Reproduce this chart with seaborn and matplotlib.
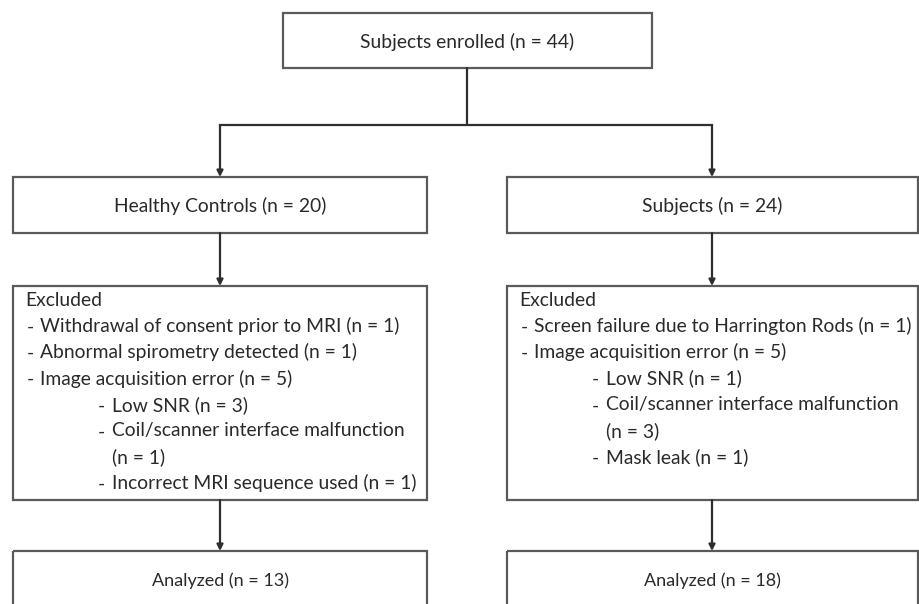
import matplotlib
matplotlib.use("Agg")
import matplotlib.pyplot as plt
import seaborn as sns
from matplotlib.patches import Rectangle

sns.set_style("white")
plt.rcParams['font.family'] = ['Lato', 'DejaVu Sans']

# --- data ---
enrolled_label = "Subjects enrolled"
enrolled_n = 44

group_labels = ["Healthy Controls", "Subjects"]
group_n = [20, 24]

# excluded reasons per group (top level) and their counts
hc_reasons = ["Withdrawal of consent prior to MRI", "Abnormal spirometry detected",
              "Image acquisition error"]
hc_counts = [1, 1, 5]
hc_sub_reasons = ["Low SNR", "Coil/scanner interface malfunction", "Incorrect MRI sequence used"]
hc_sub_counts = [3, 1, 1]

sj_reasons = ["Screen failure due to Harrington Rods", "Image acquisition error"]
sj_counts = [1, 5]
sj_sub_reasons = ["Low SNR", "Coil/scanner interface malfunction", "Mask leak"]
sj_sub_counts = [1, 3, 1]

analyzed_label = "Analyzed"
analyzed_n = [13, 18]

# --- drawing ---
W, H = 919, 604
fig = plt.figure(figsize=(W / 100, H / 100), dpi=100)
ax = fig.add_axes([0, 0, 1, 1])
ax.set_xlim(0, W)
ax.set_ylim(H, 0)
ax.axis('off')

edge = '#5a5a5a'
line_c = '#2e2e2e'
txt_c = '#2a2a2a'
fs = 13.9


def box(x0, y0, x1, y1):
    ax.add_patch(Rectangle((x0, y0), x1 - x0, y1 - y0, fill=False,
                           edgecolor=edge, lw=1.6, clip_on=False))


def arrow(x, y0, y1):
    ax.annotate('', xy=(x, y1), xytext=(x, y0),
                arrowprops=dict(arrowstyle='-|>', color=line_c, lw=1.6,
                                mutation_scale=9, shrinkA=0, shrinkB=0))


def centered(x0, x1, yc, s, size=fs):
    ax.text((x0 + x1) / 2, yc, s, ha='center', va='center', fontsize=size, color=txt_c)


def excluded(x0, reasons, counts, subs, subcounts):
    y = 300
    step = 26.2
    ax.text(x0 + 12, y, "Excluded", ha='left', va='center', fontsize=fs, color=txt_c)
    y += step
    for r, c in zip(reasons, counts):
        ax.text(x0 + 14, y + 1, "-", ha='left', va='center', fontsize=fs, color=txt_c)
        ax.text(x0 + 27, y, f"{r} (n = {c})", ha='left', va='center', fontsize=fs, color=txt_c)
        y += step
    for r, c in zip(subs, subcounts):
        ax.text(x0 + 85, y + 1, "-", ha='left', va='center', fontsize=fs, color=txt_c)
        if len(r) > 30:
            ax.text(x0 + 99, y, r, ha='left', va='center', fontsize=fs, color=txt_c)
            y += step
            ax.text(x0 + 99, y, f"(n = {c})", ha='left', va='center', fontsize=fs, color=txt_c)
        else:
            ax.text(x0 + 99, y, f"{r} (n = {c})", ha='left', va='center', fontsize=fs, color=txt_c)
        y += step


cols = [(13, 427), (507, 918)]
cx = [220, 712]

# top
box(283, 13, 652, 68)
centered(283, 652, 42, f"{enrolled_label} (n = {enrolled_n})")
ax.plot([467, 467], [68, 125], color=line_c, lw=1.6)
ax.plot([cx[0], cx[1]], [125, 125], color=line_c, lw=1.6, solid_capstyle='projecting')

for i, (x0, x1) in enumerate(cols):
    arrow(cx[i], 125, 177)
    box(x0, 177, x1, 233)
    centered(x0, x1, 206, f"{group_labels[i]} (n = {group_n[i]})")
    arrow(cx[i], 233, 286)
    box(x0, 286, x1, 500)
    arrow(cx[i], 500, 551)
    box(x0, 551, x1, 640)
    centered(x0, x1, 581, f"{analyzed_label} (n = {analyzed_n[i]})", size=13)

excluded(cols[0][0], hc_reasons, hc_counts, hc_sub_reasons, hc_sub_counts)
excluded(cols[1][0], sj_reasons, sj_counts, sj_sub_reasons, sj_sub_counts)

fig.savefig('out.png', dpi=100, facecolor='white')
